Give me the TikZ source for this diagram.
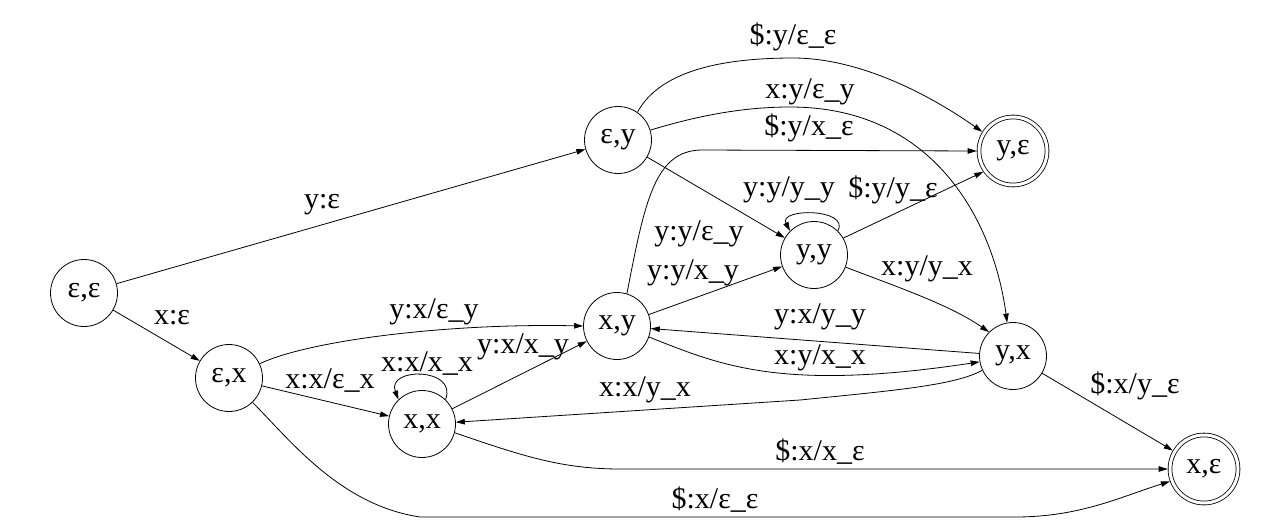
\documentclass[tikz,border=0pt]{standalone}
\usepackage{fontspec}
\setmainfont{Liberation Serif}
\usetikzlibrary{arrows.meta}
\begin{document}
\begin{tikzpicture}[x=1pt,y=-1pt,
  every node/.style={font=\fontsize{30}{36}\selectfont},
  state/.style={circle,draw,line width=0.8pt,minimum size=67pt,inner sep=0pt},
  accept/.style={circle,draw,line width=0.8pt,double,double distance=3pt,minimum size=68pt,inner sep=0pt,outer sep=2.3pt},
  arr/.style={draw,line width=0.8pt,-{Triangle[length=9pt,width=5.5pt]}},
  lbl/.style={inner sep=0pt}]
\useasboundingbox (0,0) rectangle (1274,530);
% states
\node[state] (ee) at (84,293) {ε,ε};
\node[state] (ey) at (618,140) {ε,y};
\node[state] (ex) at (229,378) {ε,x};
\node[state] (xx) at (422,424) {x,x};
\node[state] (xy) at (617,326) {x,y};
\node[state] (yy) at (814,255) {y,y};
\node[state] (yx) at (1013,356) {y,x};
\node[accept] (ye) at (1013,151) {y,ε};
\node[accept] (xe) at (1204,469) {x,ε};
% transitions
\draw[arr] (ee) -- (ey);
\draw[arr] (ee) -- (ex);
\draw[arr] (ex.25) .. controls (310,340) and (450,323) .. (xy.180);
\draw[arr] (ex) -- (xx);
\draw[arr] (xx.46) .. controls (458,367) and (386,367) .. (xx.134);
\draw[arr] (xx) -- (xy);
\draw[arr] (ex.-46) .. controls (290,440) and (340,505) .. (420,517) -- (1015,517) .. controls (1080,517) and (1120,497) .. (xe.200);
\draw[arr] (xx.-15) .. controls (520,455) and (560,469) .. (620,469) -- (xe.west);
\draw[arr] (xy) -- (yy);
\draw[arr] (xy.73) .. controls (645,200) and (655,152) .. (700,150) -- (ye.west);
\draw[arr] (ey) -- (yy);
\draw[arr] (yy.45) .. controls (850,208) and (778,208) .. (yy.135);
\draw[arr] (yy.30) -- (ye.215);
\draw[arr] (yy.-21) .. controls (900,288) and (950,305) .. (yx.135);
\draw[arr] (ey.55) .. controls (655,80) and (700,58) .. (793,58) .. controls (860,58) and (930,95) .. (ye.148);
\draw[arr] (ey.17) .. controls (700,115) and (745,107) .. (790,107) .. controls (940,107) and (995,230) .. (yx.100);
\draw[arr] (yx) -- (xy);
\draw[arr] (xy.-19) .. controls (720,365) and (780,392) .. (yx.190);
\draw[arr] (yx.205) .. controls (955,385) and (900,390) .. (800,400) -- (xx.3);
\draw[arr] (yx) -- (xe);
% labels
\node[lbl] (l1) at (322,205) {y:ε};
\node[lbl] (l2) at (172,318) {x:ε};
\node[lbl] (l3) at (434,312) {y:x/ε\_y};
\node[lbl] (l4) at (330,381) {x:x/ε\_x};
\node[lbl] (l5) at (427,364) {x:x/x\_x};
\node[lbl] (l6) at (523,347) {y:x/x\_y};
\node[lbl] (l7) at (715,500) {\$:x/ε\_ε};
\node[lbl] (l8) at (820,452) {\$:x/x\_ε};
\node[lbl] (l9) at (693,273) {y:y/x\_y};
\node[lbl] (l10) at (809,128) {\$:y/x\_ε};
\node[lbl] (l11) at (699,234) {y:y/ε\_y};
\node[lbl] (l12) at (789,190) {y:y/y\_y};
\node[lbl] (l13) at (893,190) {\$:y/y\_ε};
\node[lbl] (l14) at (927,269) {x:y/y\_x};
\node[lbl] (l15) at (793,37) {\$:y/ε\_ε};
\node[lbl] (l16) at (810,92) {x:y/ε\_y};
\node[lbl] (l17) at (820,317) {y:x/y\_y};
\node[lbl] (l18) at (820,358) {x:y/x\_x};
\node[lbl] (l19) at (645,390) {x:x/y\_x};
\node[lbl] (l20) at (1135,386) {\$:x/y\_ε};
\end{tikzpicture}
\end{document}
